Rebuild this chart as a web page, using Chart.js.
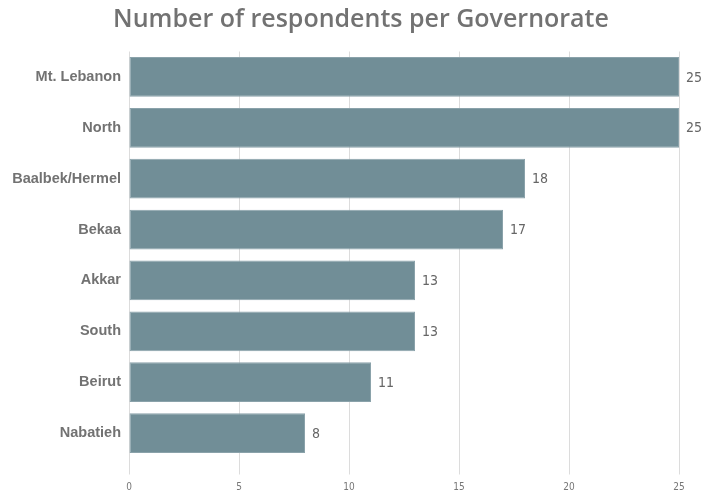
<!DOCTYPE html>
<html>
<head>
<meta charset="utf-8">
<script src="https://cdn.jsdelivr.net/npm/chart.js@4"></script>
<style>
  html, body { margin: 0; padding: 0; background: #fff; }
  #wrap { width: 716px; height: 492px; }
</style>
</head>
<body>
<div id="wrap"><canvas id="govChart" width="716" height="492"></canvas></div>
<script>
const governorates = ['Mt. Lebanon', 'North', 'Baalbek/Hermel', 'Bekaa', 'Akkar', 'South', 'Beirut', 'Nabatieh'];
const respondents = [25, 25, 18, 17, 13, 13, 11, 8];
const xTicks = [0, 5, 10, 15, 20, 25];
const chartTitle = 'Number of respondents per Governorate';

// draws the count just right of each bar, and the title over the whole page
const valueLabels = {
  id: 'valueLabels',
  afterDatasetsDraw(chart) {
    const ctx = chart.ctx;
    const meta = chart.getDatasetMeta(0);
    ctx.save();
    ctx.font = '14px "Liberation Sans Narrow", "DejaVu Sans Condensed", sans-serif';
    ctx.fillStyle = '#666';
    ctx.textAlign = 'left';
    ctx.textBaseline = 'middle';
    meta.data.forEach(function(bar, i) {
      ctx.fillText(String(respondents[i]), bar.x + 7, bar.y + 1);
    });

    ctx.font = '600 25px "Open Sans", sans-serif';
    ctx.fillStyle = '#727272';
    ctx.textAlign = 'center';
    ctx.textBaseline = 'middle';
    ctx.fillText(chartTitle, 361, 20);
    ctx.restore();
  }
};

new Chart(document.getElementById('govChart').getContext('2d'), {
  type: 'bar',
  data: {
    labels: governorates,
    datasets: [{
      data: respondents,
      backgroundColor: '#718e97',
      borderColor: '#8aa2aa',
      borderWidth: 1,
      borderSkipped: false,
      barPercentage: 0.78,
      categoryPercentage: 1.0
    }]
  },
  options: {
    indexAxis: 'y',
    responsive: false,
    animation: false,
    layout: { padding: { left: 0, right: 37, top: 51.5, bottom: 0 } },
    plugins: {
      legend: { display: false },
      tooltip: { enabled: false },
      title: { display: false }
    },
    scales: {
      x: {
        min: 0,
        max: 25,
        afterBuildTicks: function(scale) {
          scale.ticks = xTicks.map(v => ({ value: v }));
        },
        afterFit: function(scale) { scale.height = 33.5; },
        grid: { color: '#dcdcdc', lineWidth: 1, tickLength: 16, drawTicks: true },
        border: { display: false },
        ticks: {
          color: '#777',
          padding: 7,
          font: { family: '"Liberation Sans Narrow", "DejaVu Sans Condensed", sans-serif', size: 10 }
        }
      },
      y: {
        afterFit: function(scale) { scale.width = 129; },
        grid: { display: false },
        border: { display: false },
        ticks: {
          color: '#727272',
          padding: 0,
          font: { family: '"Liberation Sans", Arial, sans-serif', size: 14.5, weight: 'bold' }
        }
      }
    }
  },
  plugins: [valueLabels]
});
</script>
</body>
</html>
